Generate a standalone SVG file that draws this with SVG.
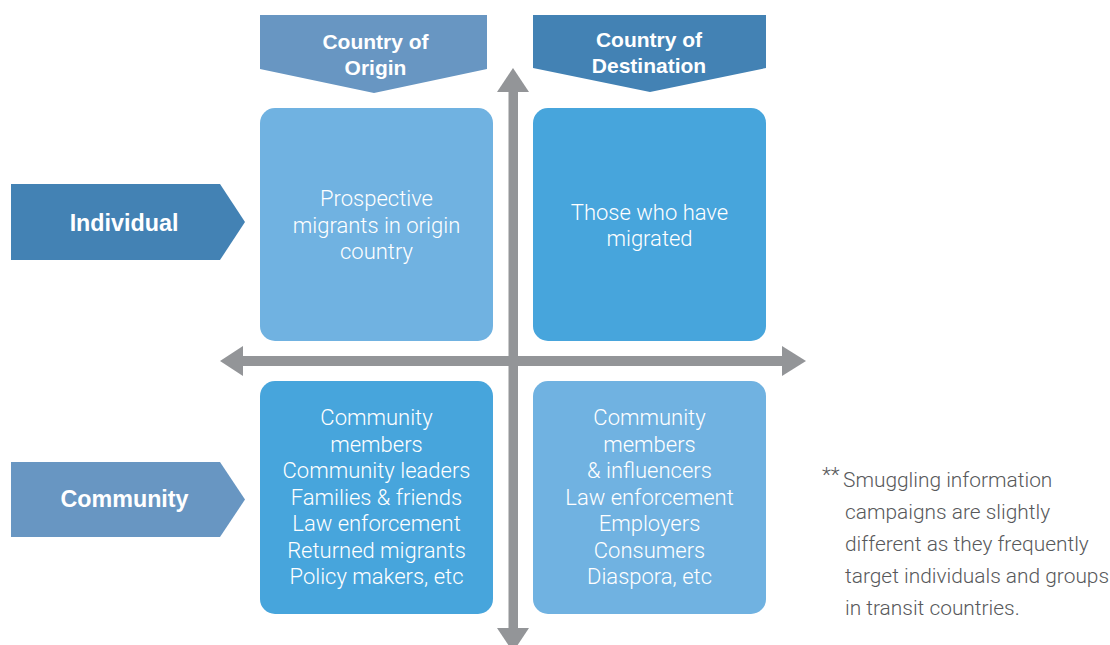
<svg xmlns="http://www.w3.org/2000/svg" width="1110" height="645" viewBox="0 0 1110 645">
  <style>
    .box-light { fill: #70b2e1; }
    .box-mid { fill: #47a5dc; }
    .hdr-light { fill: #6896c2; }
    .hdr-dark { fill: #4382b4; }
    .axis { fill: #939598; }
    .body { font-family: Roboto, "Liberation Sans", sans-serif; font-weight: 300; font-size: 22px; fill: #ffffff; text-anchor: middle; }
    .head { font-family: "Liberation Sans", Arial, sans-serif; font-weight: bold; font-size: 21px; fill: #ffffff; text-anchor: middle; }
    .side { font-family: "Liberation Sans", Arial, sans-serif; font-weight: bold; font-size: 23.3px; fill: #ffffff; text-anchor: middle; }
    .note { font-family: Roboto, "Liberation Sans", sans-serif; font-weight: 300; font-size: 20.9px; fill: #58595b; }
  </style>

  <rect width="1110" height="645" fill="#ffffff"/>

  <!-- column headers -->
  <g id="hdr-origin">
    <polygon class="hdr-light" points="260,15 487,15 487,69 374,93 260,69"/>
    <text class="head" x="375.5" y="49">Country of</text>
    <text class="head" x="375.5" y="75">Origin</text>
  </g>
  <g id="hdr-destination">
    <polygon class="hdr-dark" points="533,15 766,15 766,68 650,92 533,68"/>
    <text class="head" x="649" y="47">Country of</text>
    <text class="head" x="649" y="73">Destination</text>
  </g>

  <!-- row headers -->
  <g id="row-individual">
    <polygon class="hdr-dark" points="11,184 220,184 245,222 220,260 11,260"/>
    <text class="side" x="124" y="231">Individual</text>
  </g>
  <g id="row-community">
    <polygon class="hdr-light" points="11,462 220,462 245,499.5 220,537 11,537"/>
    <text class="side" x="124.5" y="507">Community</text>
  </g>

  <!-- axes -->
  <g id="connectors">
    <rect class="axis" x="508.5" y="90" width="9.5" height="540"/>
    <polygon class="axis" points="513,68 529,92 497,92"/>
    <polygon class="axis" points="513,652 529,628 497,628"/>
    <rect class="axis" x="240" y="356" width="545" height="10"/>
    <polygon class="axis" points="220,361 243,346 243,376"/>
    <polygon class="axis" points="806,361 782,346 782,376"/>
  </g>

  <!-- quadrants -->
  <g id="q-individual-origin">
    <rect class="box-light" x="260" y="108" width="233" height="233" rx="15"/>
    <text class="body" x="376.5" y="206">Prospective</text>
    <text class="body" x="376.5" y="233">migrants in origin</text>
    <text class="body" x="376.5" y="259">country</text>
  </g>
  <g id="q-individual-destination">
    <rect class="box-mid" x="533" y="108" width="233" height="233" rx="15"/>
    <text class="body" x="649.5" y="220">Those who have</text>
    <text class="body" x="649.5" y="246">migrated</text>
  </g>
  <g id="q-community-origin">
    <rect class="box-mid" x="260" y="381" width="233" height="233" rx="15"/>
    <text class="body" x="376.5" y="425">Community</text>
    <text class="body" x="376.5" y="451.5">members</text>
    <text class="body" x="376.5" y="478">Community leaders</text>
    <text class="body" x="376.5" y="504.5">Families &amp; friends</text>
    <text class="body" x="376.5" y="531">Law enforcement</text>
    <text class="body" x="376.5" y="557.5">Returned migrants</text>
    <text class="body" x="376.5" y="584">Policy makers, etc</text>
  </g>
  <g id="q-community-destination">
    <rect class="box-light" x="533" y="381" width="233" height="233" rx="15"/>
    <text class="body" x="649.5" y="425">Community</text>
    <text class="body" x="649.5" y="451.5">members</text>
    <text class="body" x="649.5" y="478">&amp; influencers</text>
    <text class="body" x="649.5" y="504.5">Law enforcement</text>
    <text class="body" x="649.5" y="531">Employers</text>
    <text class="body" x="649.5" y="557.5">Consumers</text>
    <text class="body" x="649.5" y="584">Diaspora, etc</text>
  </g>

  <!-- footnote -->
  <g id="footnote">
    <text class="note" x="822" y="482" font-size="13">**</text>
    <text class="note" x="843" y="487">Smuggling information</text>
    <text class="note" x="845" y="519">campaigns are slightly</text>
    <text class="note" x="845" y="551">different as they frequently</text>
    <text class="note" x="845" y="583">target individuals and groups</text>
    <text class="note" x="845" y="615">in transit countries.</text>
  </g>
</svg>
